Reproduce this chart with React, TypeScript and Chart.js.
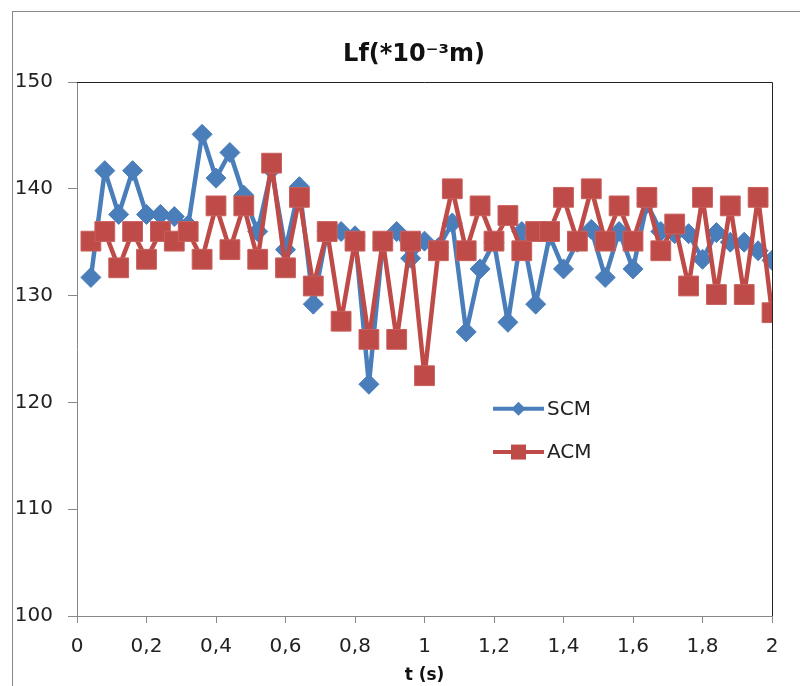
import React, { useEffect, useRef } from "react";
import { Chart, registerables } from "chart.js";

Chart.register(...registerables);

const times = [
  0.04, 0.08, 0.12, 0.16, 0.2, 0.24, 0.28, 0.32, 0.36, 0.4,
  0.44, 0.48, 0.52, 0.56, 0.6, 0.64, 0.68, 0.72, 0.76, 0.8,
  0.84, 0.88, 0.92, 0.96, 1.0, 1.04, 1.08, 1.12, 1.16, 1.2,
  1.24, 1.28, 1.32, 1.36, 1.4, 1.44, 1.48, 1.52, 1.56, 1.6,
  1.64, 1.68, 1.72, 1.76, 1.8, 1.84, 1.88, 1.92, 1.96, 2.0,
];

const scmValues = [
  131.7, 141.7, 137.6, 141.7, 137.6, 137.6, 137.4, 136.6, 145.1, 141.0,
  143.4, 139.4, 136.0, 141.8, 134.3, 140.2, 129.2, 136.0, 136.0, 135.6,
  121.7, 135.0, 136.0, 133.5, 135.1, 134.5, 136.8, 126.6, 132.5, 135.0,
  127.5, 136.0, 129.2, 135.6, 132.5, 135.0, 136.2, 131.7, 136.0, 132.5,
  138.6, 136.0, 135.8, 135.8, 133.4, 135.9, 135.0, 135.0, 134.2, 133.3,
];

const acmValues = [
  135.1, 136.0, 132.6, 136.0, 133.4, 136.0, 135.1, 136.0, 133.4, 138.4,
  134.3, 138.4, 133.4, 142.4, 132.6, 139.2, 130.9, 136.0, 127.6, 135.1,
  125.9, 135.1, 125.9, 135.1, 122.5, 134.2, 140.0, 134.2, 138.4, 135.1,
  137.5, 134.2, 136.0, 136.0, 139.2, 135.1, 140.0, 135.1, 138.4, 135.1,
  139.2, 134.2, 136.7, 130.9, 139.2, 130.1, 138.4, 130.1, 139.2, 128.4,
];

const seriesNames = ["SCM", "ACM"];
const titleText = "Lf(*10⁻³m)";
const xTitle = "t (s)";

const BLUE = "#4A7EBB";
const RED = "#BE4B48";
const TICK_FONT = "'DejaVu Sans', sans-serif";

const frameLegendPlugin = {
  id: "frameLegend",
  afterLayout(chart: any) {
    const tb = chart.titleBlock;
    if (tb) {
      tb.left = 56;
      tb.right = chart.chartArea.right;
      tb.width = tb.right - tb.left;
    }
  },
  afterDraw(chart: any) {
    const { ctx, chartArea } = chart;
    const { left, right, top, bottom } = chartArea;
    ctx.save();
    ctx.strokeStyle = "#222";
    ctx.lineWidth = 1;
    ctx.beginPath();
    ctx.moveTo(left, top + 0.5);
    ctx.lineTo(right + 0.5, top + 0.5);
    ctx.lineTo(right + 0.5, bottom);
    ctx.stroke();

    const w = right - left;
    const h = bottom - top;
    const lx = left + w * 0.5986;
    const lineLen = 51;
    const rows = [
      { name: chart.data.datasets[0].label, color: BLUE, y: top + h * 0.612, shape: "diamond" },
      { name: chart.data.datasets[1].label, color: RED, y: top + h * 0.693, shape: "square" },
    ];
    rows.forEach((r) => {
      ctx.strokeStyle = r.color;
      ctx.fillStyle = r.color;
      ctx.lineWidth = 4;
      ctx.beginPath();
      ctx.moveTo(lx, r.y);
      ctx.lineTo(lx + lineLen, r.y);
      ctx.stroke();
      const cx = lx + lineLen / 2;
      ctx.beginPath();
      if (r.shape === "diamond") {
        ctx.moveTo(cx, r.y - 7);
        ctx.lineTo(cx + 7, r.y);
        ctx.lineTo(cx, r.y + 7);
        ctx.lineTo(cx - 7, r.y);
        ctx.closePath();
      } else {
        ctx.rect(cx - 7.5, r.y - 7.5, 15, 15);
      }
      ctx.fill();
      ctx.fillStyle = "#222";
      ctx.font = `20px ${TICK_FONT}`;
      ctx.textAlign = "left";
      ctx.textBaseline = "middle";
      ctx.fillText(r.name, lx + lineLen + 3, r.y + 1);
    });
    ctx.restore();
  },
};

export default function App() {
  const ref = useRef<HTMLCanvasElement | null>(null);

  useEffect(() => {
    if (!ref.current) return;
    const chart = new Chart(ref.current, {
      type: "line",
      data: {
        datasets: [
          {
            label: seriesNames[0],
            data: times.map((t, i) => ({ x: t, y: scmValues[i] })),
            order: 2,
            borderColor: BLUE,
            backgroundColor: BLUE,
            borderWidth: 4.5,
            borderJoinStyle: "round",
            borderCapStyle: "round",
            pointStyle: "rectRot",
            pointRadius: 10,
            pointBorderWidth: 1,
            pointBackgroundColor: BLUE,
            pointBorderColor: BLUE,
            tension: 0,
          },
          {
            label: seriesNames[1],
            data: times.map((t, i) => ({ x: t, y: acmValues[i] })),
            order: 1,
            borderColor: RED,
            backgroundColor: RED,
            borderWidth: 4.5,
            borderJoinStyle: "round",
            borderCapStyle: "round",
            pointStyle: "rect",
            pointRadius: 14,
            pointBorderWidth: 1,
            pointBackgroundColor: RED,
            pointBorderColor: "#C9605D",
            tension: 0,
          },
        ],
      },
      options: {
        animation: false,
        responsive: false,
        maintainAspectRatio: false,
        layout: { padding: { left: 8, right: 28, top: 0, bottom: 0 } },
        plugins: {
          legend: { display: false },
          tooltip: { enabled: false },
          title: {
            display: true,
            text: titleText,
            color: "#111",
            font: { family: TICK_FONT, size: 24, weight: "bold", lineHeight: 1.2 },
            padding: { top: 40.6, bottom: 12.6 },
          },
        },
        scales: {
          x: {
            type: "linear",
            min: 0,
            max: 2,
            afterFit: (s: any) => {
              s.height = 70;
            },
            ticks: {
              stepSize: 0.2,
              color: "#222",
              padding: 12,
              maxRotation: 0,
              autoSkip: false,
              font: { family: TICK_FONT, size: 20 },
              callback: (v: any) => String(Math.round(Number(v) * 10) / 10).replace(".", ","),
            },
            grid: {
              drawOnChartArea: false,
              drawTicks: true,
              tickLength: 7,
              color: "#888",
            },
            border: { display: true, color: "#888", width: 1 },
            title: {
              display: true,
              text: xTitle,
              color: "#111",
              font: { family: TICK_FONT, size: 17, weight: "bold", lineHeight: 1.2 },
              padding: { top: 0, bottom: 0 },
            },
          },
          y: {
            min: 100,
            max: 150,
            afterFit: (s: any) => {
              s.width = 69;
            },
            ticks: {
              stepSize: 10,
              color: "#222",
              padding: 15,
              font: { family: TICK_FONT, size: 20 },
            },
            grid: {
              drawOnChartArea: false,
              drawTicks: true,
              tickLength: 9,
              color: "#888",
            },
            border: { display: true, color: "#888", width: 1 },
          },
        },
      },
      plugins: [frameLegendPlugin],
    });
    return () => chart.destroy();
  }, []);

  return (
    <div
      style={{
        position: "absolute",
        left: 0,
        top: 0,
        width: 800,
        height: 686,
        overflow: "hidden",
        background: "#fff",
      }}
    >
      <div
        style={{
          position: "absolute",
          left: 12,
          top: 11,
          width: 820,
          height: 720,
          border: "1px solid #8a8a8a",
          boxSizing: "border-box",
        }}
      />
      <canvas
        ref={ref}
        width={800}
        height={686}
        style={{ position: "absolute", left: 0, top: 0, width: 800, height: 686 }}
      />
    </div>
  );
}
